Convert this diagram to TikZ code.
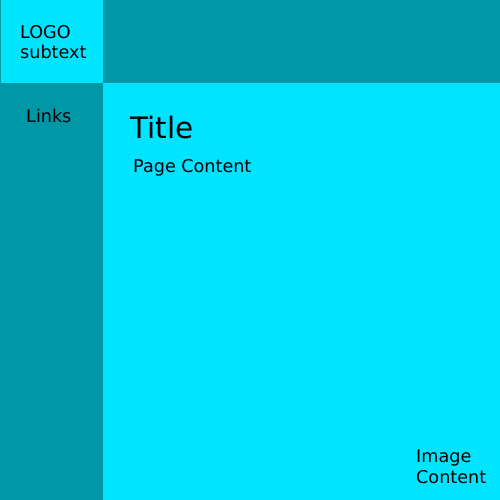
\documentclass[tikz,border=0pt]{standalone}
\usepackage{fontspec}
\setmainfont{DejaVu Sans}
\definecolor{panelcyan}{HTML}{00E5FF}
\definecolor{panelteal}{HTML}{0097A7}
\begin{document}
\begin{tikzpicture}[x=1pt,y=-1pt,
  lbl/.style={inner sep=0pt,anchor=base west,align=left,
    font=\fontsize{17.6}{20.5}\selectfont},
  bigtitle/.style={inner sep=0pt,anchor=base west,
    font=\fontsize{29.5}{34}\selectfont}]
  \useasboundingbox (0,0) rectangle (500,500);
  % page regions
  \fill[panelteal] (0,0) rectangle (500,500);
  \fill[panelcyan] (1,0) rectangle (103,83);
  \fill[panelcyan] (103,83) rectangle (500,500);
  % labels (base anchor sits on the last line of a multi-line label)
  \node[lbl] (logo) at (20,59) {LOGO\\subtext};
  \node[lbl] (links) at (26,122) {Links};
  \node[bigtitle] (title) at (130,139) {Title};
  \node[lbl] (content) at (133,172) {Page Content};
  \node[lbl] (image) at (416,483) {Image\\Content};
\end{tikzpicture}
\end{document}
